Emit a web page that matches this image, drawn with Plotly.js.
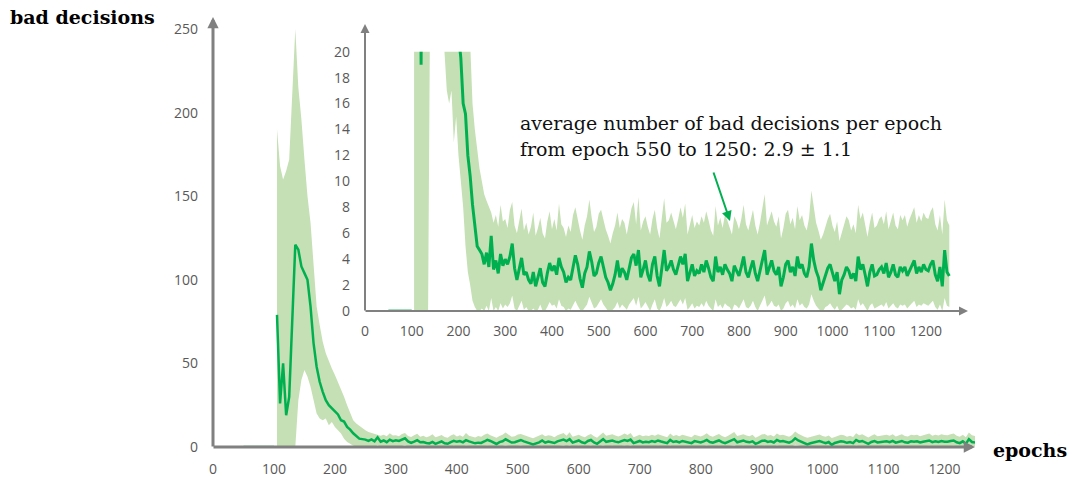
<!DOCTYPE html>
<html>
<head>
<meta charset="utf-8">
<script src="https://cdn.plot.ly/plotly-3.0.1.min.js"></script>
<style>html,body{margin:0;padding:0;background:#fff;}#chart{width:1070px;height:480px;}</style>
</head>
<body>
<div id="chart"></div>
<script>
// ---- data ----
// warm-up segment (value 0)
const warmEpochs = [50, 100];
const warmValues = [0, 0];

// main series, sampled every 5 epochs, from epoch 105 to 1250
const EPOCH_START = 105;
const EPOCH_STEP = 5;

const meanValues = [
  79, 26, 50, 19, 30, 80, 121, 118, 108, 104,
  100, 84, 62, 48, 39, 33, 28, 25, 23, 21,
  19.5, 16, 15.2, 12, 10.4, 8.2, 6.4, 5.0, 4.7, 4.4,
  3.6, 4.5, 3.4, 5.8, 3.2, 3.9, 2.9, 4.4, 3.5, 4.0,
  3.6, 4.2, 5.2, 3.3, 2.4, 3.2, 4.1, 2.8, 3.0, 2.4,
  2.1, 3.0, 1.9, 2.6, 3.3, 2.2, 1.9, 2.9, 3.7, 3.1,
  3.5, 2.8, 4.1, 3.4, 3.0, 2.2, 2.6, 2.4, 3.3, 4.3,
  3.6, 2.5, 1.8, 2.9, 3.4, 4.6, 3.8, 2.7, 2.9, 3.7,
  4.2, 3.4, 2.6, 2.2, 1.6, 2.1, 2.8, 3.9, 2.6, 3.3,
  3.0, 2.4, 3.4, 4.1, 4.4, 3.5, 4.7, 2.6, 3.2, 3.9,
  2.8, 2.3, 3.6, 4.2, 2.7, 1.9, 3.3, 4.7, 3.1, 3.4,
  3.9, 3.2, 2.8, 3.5, 4.2, 3.6, 4.4, 2.3, 3.0, 3.6,
  2.7, 3.1, 2.9, 3.6, 3.0, 3.9, 3.3, 2.6, 2.3, 4.2,
  3.0, 3.4, 2.8, 3.6, 3.2, 2.9, 2.3, 3.5, 3.1, 2.7,
  3.4, 4.2, 3.0, 2.6, 3.3, 3.9, 2.9, 2.3, 3.1, 4.0,
  4.7, 2.8, 3.3, 3.9, 3.1, 2.8, 3.4, 1.9, 2.6, 3.6,
  3.9, 3.0, 3.4, 2.7, 4.2, 3.3, 3.6, 2.9, 2.6, 3.4,
  5.2, 3.9, 3.1, 2.6, 1.6, 2.2, 2.8, 3.3, 3.6, 2.9,
  2.3, 3.0, 1.3, 2.4, 2.8, 3.4, 3.1, 2.5, 2.9, 2.3,
  4.2, 3.2, 3.6, 2.8, 1.9, 3.0, 3.6, 2.7, 2.8, 3.2,
  3.4, 2.9, 3.7, 2.6, 3.0, 3.6, 2.8, 2.6, 3.4, 3.1,
  3.4, 2.7, 3.1, 3.5, 3.9, 2.9, 3.4, 3.0, 3.6, 3.2,
  3.1, 3.6, 3.9, 2.8, 2.3, 3.4, 1.9, 4.7, 3.0, 2.7
];

const upperValues = [
  190, 168, 160, 165, 172, 215, 250, 215, 196, 172,
  150, 134, 110, 84, 73, 63, 56, 51, 47, 43,
  39, 35, 30, 25, 20, 16, 14, 12.5, 11, 10,
  9, 8.5, 8, 7.6, 6.8, 7.4, 6.5, 8.2, 6.9, 7.1,
  6.4, 7.8, 8.4, 6.6, 6.0, 7.0, 7.9, 6.2, 6.8, 5.9,
  6.5, 7.6, 5.8, 6.4, 7.2, 6.0, 5.6, 6.9, 7.7, 6.3,
  7.1, 6.2, 8.3, 6.7, 6.4, 5.7, 6.6, 6.1, 7.4, 8.0,
  7.0, 6.2, 5.5, 6.6, 7.3, 8.6, 7.2, 6.1, 6.5, 7.5,
  7.8, 7.0, 6.3, 5.8, 5.2, 6.0, 6.6, 7.6, 6.4, 7.1,
  6.8, 5.9, 7.0, 7.9, 8.4, 6.7, 8.8, 6.2, 6.9, 7.3,
  6.5, 5.9, 7.1, 7.8, 6.4, 5.6, 7.2, 8.7, 6.8, 7.0,
  7.6, 6.9, 6.3, 7.1, 8.0, 7.2, 8.3, 5.9, 6.7, 7.4,
  6.4, 6.9, 6.6, 7.3, 6.8, 7.7, 7.0, 6.2, 5.8, 8.1,
  6.6, 7.2, 6.4, 7.4, 7.0, 6.5, 5.9, 7.3, 6.9, 6.3,
  7.1, 8.2, 6.7, 6.2, 7.0, 7.8, 6.6, 5.9, 6.8, 7.9,
  9.0, 6.6, 7.2, 7.7, 6.9, 6.5, 7.3, 5.6, 6.4, 7.5,
  7.8, 6.7, 7.2, 6.3, 8.1, 7.0, 7.4, 6.6, 6.2, 7.2,
  9.3, 7.9, 6.8, 6.2, 5.5, 5.9, 6.6, 7.1, 7.5, 6.6,
  6.1, 6.9, 5.4, 6.0, 6.6, 7.3, 7.0, 6.2, 6.7, 6.0,
  8.2, 7.1, 7.6, 6.5, 5.7, 6.8, 7.6, 6.4, 6.6, 7.1,
  7.3, 6.7, 7.7, 6.3, 6.9, 7.6, 6.6, 6.3, 7.4, 7.0,
  7.4, 6.5, 7.1, 7.5, 8.0, 6.8, 7.4, 6.9, 7.6, 7.2,
  7.1, 7.7, 8.0, 6.7, 6.2, 7.4, 5.9, 8.6, 7.0, 6.6
];

const lowerValues = [
  0, 0, 0, 0, 0, 0, 0, 28, 40, 46,
  42, 36, 28, 20, 17, 16, 17, 13, 15, 12,
  10, 8, 5, 3, 2, 0.8, 0.3, 0, 0, 0.2,
  0, 0.4, 0, 1.0, 0, 0.3, 0, 0.6, 0.2, 0.5,
  0.3, 0.6, 1.2, 0.2, 0, 0.4, 0.8, 0.1, 0.3, 0,
  0, 0.2, 0, 0.1, 0.5, 0, 0, 0.3, 0.7, 0.4,
  0.5, 0.2, 0.9, 0.4, 0.3, 0, 0.2, 0.1, 0.5, 0.8,
  0.4, 0.1, 0, 0.3, 0.5, 1.1, 0.6, 0.2, 0.3, 0.6,
  0.9, 0.5, 0.2, 0, 0, 0.1, 0.3, 0.7, 0.2, 0.5,
  0.3, 0.1, 0.5, 0.8, 1.0, 0.4, 1.1, 0.2, 0.4, 0.7,
  0.3, 0, 0.5, 0.9, 0.2, 0, 0.4, 1.0, 0.3, 0.5,
  0.8, 0.4, 0.3, 0.6, 0.9, 0.5, 1.0, 0.1, 0.3, 0.6,
  0.2, 0.4, 0.3, 0.6, 0.3, 0.8, 0.4, 0.2, 0, 0.9,
  0.3, 0.5, 0.2, 0.6, 0.4, 0.3, 0, 0.5, 0.4, 0.2,
  0.5, 0.9, 0.3, 0.2, 0.4, 0.8, 0.3, 0, 0.4, 0.8,
  1.2, 0.3, 0.5, 0.8, 0.4, 0.3, 0.5, 0, 0.2, 0.6,
  0.8, 0.3, 0.5, 0.2, 0.9, 0.4, 0.6, 0.3, 0.2, 0.5,
  1.3, 0.8, 0.4, 0.2, 0, 0, 0.3, 0.4, 0.6, 0.3,
  0.1, 0.4, 0, 0.1, 0.3, 0.5, 0.4, 0.2, 0.3, 0.1,
  0.9, 0.4, 0.6, 0.3, 0, 0.4, 0.6, 0.2, 0.3, 0.4,
  0.5, 0.3, 0.7, 0.2, 0.4, 0.6, 0.3, 0.2, 0.5, 0.4,
  0.5, 0.2, 0.4, 0.6, 0.8, 0.3, 0.5, 0.4, 0.6, 0.5,
  0.4, 0.6, 0.8, 0.3, 0.1, 0.5, 0, 1.0, 0.4, 0.3
];

const mainTickVals = [0, 100, 200, 300, 400, 500, 600, 700, 800, 900, 1000, 1100, 1200];
const mainYTicks = [0, 50, 100, 150, 200, 250];
const insetTickVals = [0, 100, 200, 300, 400, 500, 600, 700, 800, 900, 1000, 1100, 1200];
const insetYTicks = [0, 2, 4, 6, 8, 10, 12, 14, 16, 18, 20];

const yTitle = 'bad decisions';
const xTitle = 'epochs';
const noteLine1 = 'average number of bad decisions per epoch';
const noteLine2 = 'from epoch 550 to 1250: 2.9 \u00b1 1.1';

// ---- build ----
const epochs = meanValues.map((_, i) => EPOCH_START + i * EPOCH_STEP);

const GREEN = '#00b050';
const BAND = '#c5e0b4';
const AXIS = '#808080';
const TICK = '#595959';

function series(xa, ya, lw) {
  return [
    {x: epochs, y: lowerValues, xaxis: xa, yaxis: ya, type: 'scatter', mode: 'lines',
     line: {width: 0, color: BAND}, hoverinfo: 'skip'},
    {x: epochs, y: upperValues, xaxis: xa, yaxis: ya, type: 'scatter', mode: 'lines',
     fill: 'tonexty', fillcolor: BAND, line: {width: 0, color: BAND}, hoverinfo: 'skip'},
    {x: warmEpochs, y: warmValues, xaxis: xa, yaxis: ya, type: 'scatter', mode: 'lines',
     line: {width: lw, color: '#3dbb75'}},
    {x: epochs, y: meanValues, xaxis: xa, yaxis: ya, type: 'scatter', mode: 'lines',
     line: {width: lw, color: GREEN}}
  ];
}

const data = [].concat(series('x', 'y', 2.5), series('x2', 'y2', 3));

const W = 1070, H = 480;
const px = v => v / W;
const py = v => 1 - v / H;

const tickFont = {family: 'Open Sans, Noto Sans, sans-serif', size: 14, color: TICK};
function ax(extra) {
  return Object.assign({showgrid: false, zeroline: false, showline: false, ticks: '',
    tickfont: tickFont, tickmode: 'array', fixedrange: true}, extra);
}

function arrow(x0, y0, x1, y1, w, size, color) {
  return {x: px(x1), y: py(y1), xref: 'paper', yref: 'paper', text: '', showarrow: true,
    ax: x0 - x1, ay: y0 - y1, arrowhead: 2, arrowsize: size, arrowwidth: w,
    arrowcolor: color, standoff: 0, startstandoff: 0};
}

const serifBold = {family: 'DejaVu Serif, serif', size: 19, color: '#000', weight: 'bold'};
const serif = {family: 'DejaVu Serif, serif', size: 19, color: '#111'};

const layout = {
  width: W, height: H,
  margin: {l: 0, r: 0, t: 0, b: 0},
  paper_bgcolor: '#fff', plot_bgcolor: 'rgba(0,0,0,0)',
  showlegend: false,
  xaxis: ax({domain: [px(213), px(975)], range: [0, 1250], tickvals: mainTickVals, ticklabelstandoff: 12, anchor: 'y'}),
  yaxis: ax({domain: [py(447), py(29)], range: [0, 250], tickvals: mainYTicks, ticklabelstandoff: 14, anchor: 'x'}),
  xaxis2: ax({domain: [px(365), px(968)], range: [0, 1290], tickvals: insetTickVals, ticklabelstandoff: 10, anchor: 'y2'}),
  yaxis2: ax({domain: [py(311), py(51.7)], range: [0, 20], tickvals: insetYTicks, ticklabelstandoff: 14, anchor: 'x2'}),
  annotations: [
    arrow(213, 448, 213, 17, 3, 0.75, AXIS),
    arrow(212, 447, 975, 447, 3, 0.75, AXIS),
    arrow(365, 312, 365, 24, 2, 0.9, AXIS),
    arrow(364, 311, 968, 311, 2, 0.9, AXIS),
    arrow(713, 171, 730, 221, 2, 1, GREEN),
    {x: px(8), y: py(17), xref: 'paper', yref: 'paper', xanchor: 'left', yanchor: 'middle',
     text: '<b>' + yTitle + '</b>', showarrow: false, font: serifBold},
    {x: px(991), y: py(450), xref: 'paper', yref: 'paper', xanchor: 'left', yanchor: 'middle',
     text: '<b>' + xTitle + '</b>', showarrow: false, font: serifBold},
    {x: px(518), y: py(123), xref: 'paper', yref: 'paper', xanchor: 'left', yanchor: 'middle',
     text: noteLine1, showarrow: false, font: serif},
    {x: px(518), y: py(149), xref: 'paper', yref: 'paper', xanchor: 'left', yanchor: 'middle',
     text: noteLine2, showarrow: false, font: serif}
  ]
};

Plotly.newPlot('chart', data, layout, {staticPlot: true, displayModeBar: false});
</script>
</body>
</html>
